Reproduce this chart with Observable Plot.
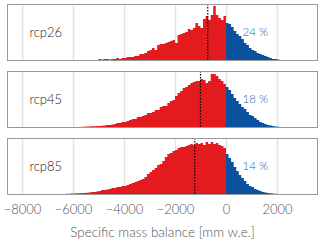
<!DOCTYPE html>
<html>
<head>
<meta charset="utf-8">
<script src="https://cdn.jsdelivr.net/npm/d3@7"></script>
<script src="https://cdn.jsdelivr.net/npm/@observablehq/plot@0.6"></script>
<style>
  html, body { margin: 0; padding: 0; background: #fff; }
  #chart { width: 320px; height: 240px; }
</style>
</head>
<body>
<div id="chart"></div>
<script>
const scenarios = ["rcp26", "rcp45", "rcp85"];
const binWidth = 100;

const start26 = -5000;
const counts26 = [
  1, 0.5, 1, 1, 0.5, 1, 1, 2, 1, 2, 2,
  3, 3, 3, 4, 4, 6, 6, 7, 9,
  10, 12, 10, 15, 16, 16, 17, 18, 19, 20, 17, 25, 26, 27, 28, 31, 30, 32, 37, 34,
  32, 41, 44, 40, 45, 54, 45, 42, 40, 44,
  37, 36, 33, 29, 26, 24, 21, 17, 15, 12, 10, 9, 7, 6, 5, 4, 3, 2, 1, 1, 0.5
];

const start45 = -5700;
const counts45 = [
  0.3, 0.3, 0.5, 0.5, 0.7, 0.8, 1, 1, 1.2, 1.5, 2, 2, 2.5, 3, 4, 4, 5, 5, 6, 7, 8, 8,
  10, 10, 11, 12, 14, 14, 15, 17, 17, 20, 21, 21, 24, 26, 27, 31, 34, 36, 39, 40, 42,
  44, 45, 46, 46, 48, 47, 44, 46, 53, 53, 51, 48, 46, 43,
  40, 37, 33, 29, 26, 23, 20, 18, 15, 12, 11, 9, 7, 5, 4, 3, 2, 1.5, 1, 0.5, 0.3
];

const start85 = -6300;
const counts85 = [
  0.3, 0.3, 0.5, 0.5, 0.7, 0.8, 1, 1, 1.2, 1.5, 2, 2, 2.5, 3, 4, 4, 4.5, 5, 6, 6, 7, 7,
  8, 8, 9, 10, 11, 12, 13, 14, 15, 17, 20, 22, 24, 26, 29, 30, 33, 37, 40, 41, 43, 44,
  46, 47, 47, 48, 49, 50, 49, 51, 50, 51, 49, 52, 50, 52, 50, 51, 49, 48, 46,
  40, 36, 32, 27, 23, 19, 16, 13, 10, 8, 7, 5, 4, 3, 2, 1.5, 1, 0.7, 0.4, 0.2
];

const means = [-735, -1020, -1245];
const percentLabels = ["24 %", "18 %", "14 %"];
const xTicks = [-8000, -6000, -4000, -2000, 0, 2000];

const starts = [start26, start45, start85];
const countsAll = [counts26, counts45, counts85];

// Step-area points: each bin contributes its left edge; each group (loss/gain) gets a closing right edge.
const points = [];
scenarios.forEach((s, k) => {
  const bins = countsAll[k].map((c, i) => ({x1: starts[k] + i * binWidth, count: c}));
  ["loss", "gain"].forEach(kind => {
    const sel = bins.filter(b => (kind === "gain") === (b.x1 >= 0));
    sel.forEach(b => points.push({scenario: s, kind, x: b.x1, count: b.count}));
    const last = sel[sel.length - 1];
    points.push({scenario: s, kind, x: last.x1 + binWidth, count: last.count});
  });
});
const meanRows = scenarios.map((s, k) => ({scenario: s, mean: means[k]}));
const labelRows = scenarios.map((s, k) => ({scenario: s, pct: percentLabels[k]}));

const chart = Plot.plot({
  width: 320,
  height: 240,
  marginTop: 3,
  marginBottom: 46,
  marginLeft: 7,
  marginRight: 3,
  style: {fontFamily: "Lato, 'Open Sans', sans-serif", fontSize: "12px", background: "#fff"},
  x: {domain: [-8590, 3570], ticks: xTicks},
  y: {domain: [0, 56], axis: null},
  fy: {domain: scenarios, axis: null, paddingInner: 0.17, paddingOuter: 0},
  color: {domain: ["loss", "gain"], range: ["#e31b1f", "#0a519e"]},
  marks: [
    Plot.gridX(xTicks, {stroke: "#e3e3e3", strokeOpacity: 1, strokeWidth: 1.5}),
    Plot.areaY(points, {
      x: "x", y1: 0, y2: "count", fy: "scenario", z: "kind", fill: "kind",
      curve: "step-after", fillOpacity: 1
    }),
    Plot.ruleX(meanRows, {x: "mean", fy: "scenario", stroke: "#000", strokeWidth: 1.2, strokeDasharray: "1.5,1.5"}),
    Plot.frame({stroke: "#999", strokeWidth: 1}),
    Plot.text(labelRows, {fy: "scenario", text: "scenario", frameAnchor: "left", dx: 22, textAnchor: "start", fill: "#222", fontSize: 13, fontWeight: 300}),
    Plot.text(labelRows, {fy: "scenario", x: () => 1130, text: "pct", frameAnchor: "middle", textAnchor: "middle", fill: "#2a63ad", fontSize: 11.5, fontWeight: 300}),
    Plot.axisX(xTicks, {
      tickSize: 0, tickPadding: 10, fontSize: 13, fontWeight: 300, color: "#555",
      tickFormat: d => d < 0 ? "\u2212" + Math.abs(d) : String(d),
      label: null
    }),
    Plot.axisX({
      ticks: [], tickSize: 0, fontSize: 13.5, fontWeight: 300, color: "#555",
      label: "Specific mass balance [mm w.e.]", labelAnchor: "center", labelArrow: "none", labelOffset: 42
    })
  ]
});
document.getElementById("chart").appendChild(chart);
</script>
</body>
</html>
